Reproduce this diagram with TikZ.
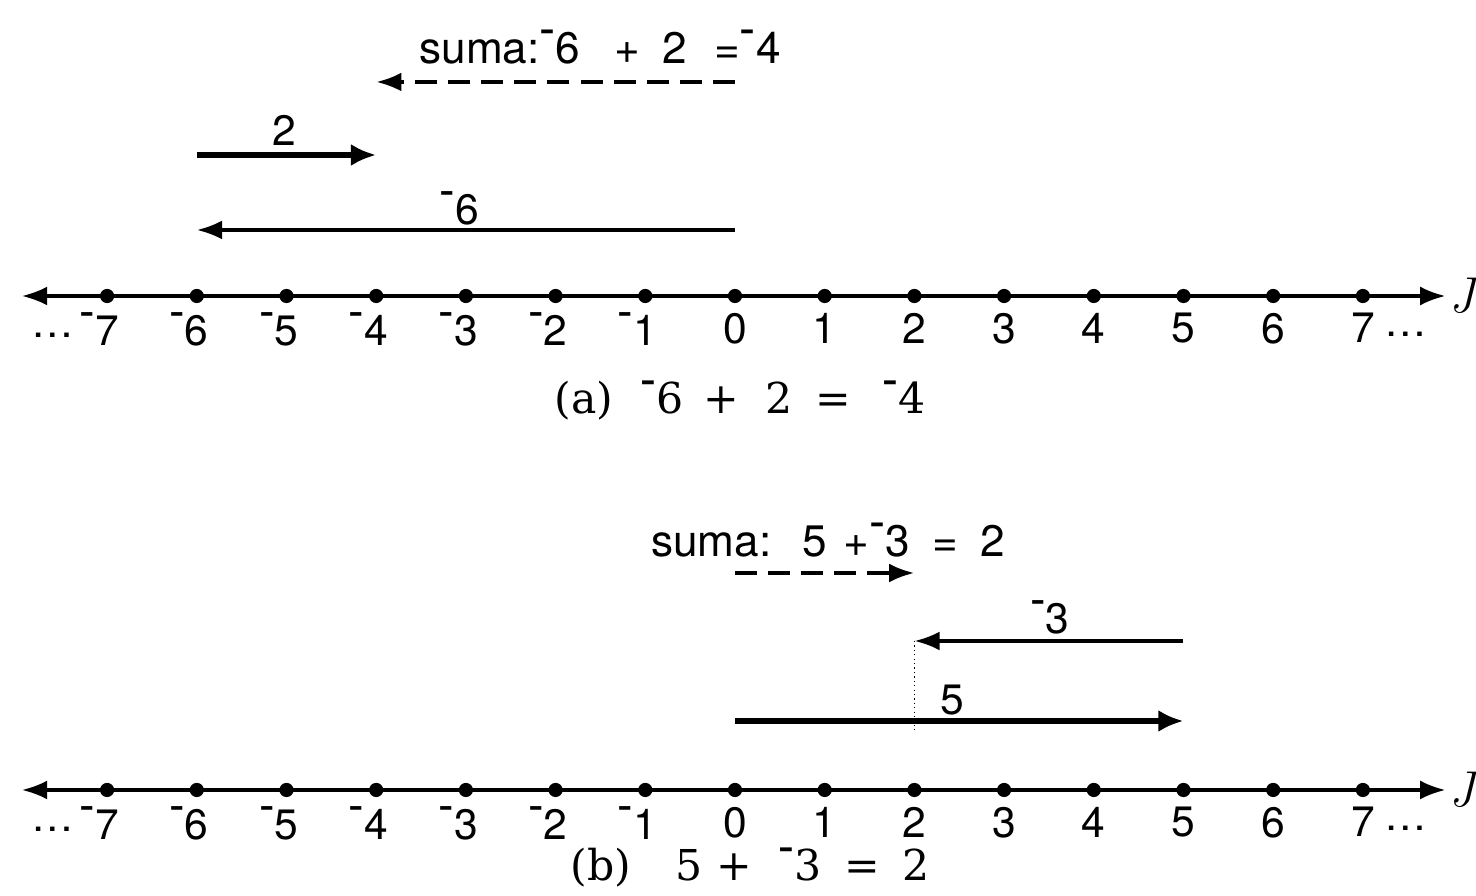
\documentclass[tikz,border=0pt]{standalone}
\usepackage{fontspec}
\setsansfont{TeX Gyre Heros}
\newfontfamily\capfont{DejaVu Serif}
\usepackage{graphicx}
\usetikzlibrary{arrows.meta, positioning, calc}

% raised minus sign used for negative integers
\newcommand{\negsign}{\raisebox{0.4em}{\scalebox{1.1}[1.2]{-}}}
\newcommand{\negnum}[1]{\negsign#1}

\begin{document}
\begin{tikzpicture}[x=1cm, y=1cm]
\tikzset{
  numline/.style={line width=1pt, {Latex[length=8pt, width=6pt]}-{Latex[length=8pt, width=6pt]}},
  tickdot/.style={circle, fill=black, minimum size=4.5pt, inner sep=0},
  ticklabel/.style={font=\sffamily\fontsize{13.5}{16}\selectfont, inner sep=1pt},
  sumlabel/.style={font=\sffamily\fontsize{14}{16}\selectfont, inner sep=1pt},
  vecthin/.style={line width=1.1pt, -{Latex[length=8pt, width=6pt]}},
  vecthick/.style={line width=1.8pt, -{Latex[length=8pt, width=7pt]}},
  sumvec/.style={line width=1.2pt, dash pattern=on 7pt off 3.5pt, -{Latex[length=8pt, width=6pt]}},
  captext/.style={font=\capfont\fontsize{13.5}{16}\selectfont},
}
\useasboundingbox (-8.194,-6.689) rectangle (8.261,3.300);

  % (a) number line
  \coordinate (aL) at (-7.95,0);
  \coordinate (aR) at (7.92,0);
  \draw[numline] (aL) -- (aR);
  \foreach \n in {-7,...,7}{
    \pgfmathtruncatemacro\m{abs(\n)}
    \node[tickdot] (a\n) at (\n,0) {};
    \node[ticklabel, below=0.06cm of a\n] (la\n)
      {\ifnum\n<0 \llap{\negsign}\fi\m};
  }
  \node[ticklabel, left=0.15cm of la-7, yshift=-2pt] (adotsL) {\ldots};
  \node[ticklabel, right=0.02cm of la7, yshift=-2pt] (adotsR) {\ldots};
  \node[font=\itshape\fontsize{16}{18}\selectfont, right=0pt of aR, inner sep=1pt] (aJ) {J};

  % (a) vectors
  \coordinate (a6tail) at ($(a0)+(0,0.736)$);
  \coordinate (a6head) at ($(a-6)+(0,0.736)$);
  \coordinate (a2tail) at ($(a-6)+(0,1.572)$);
  \coordinate (a2head) at ($(a-4)+(0,1.572)$);
  \coordinate (asumtail) at ($(a0)+(0,2.386)$);
  \coordinate (asumhead) at ($(a-4)+(0,2.386)$);
  \draw[vecthin] (a6tail) -- (a6head);
  \draw[vecthick] (a2tail) -- (a2head);
  \draw[sumvec] (asumtail) -- (asumhead);
  \node[ticklabel] (a6lab) at (-3.07,0.981) {\negnum{6}};
  \node[ticklabel] (a2lab) at (-5.02,1.85) {2};
  \node[sumlabel] (asum) at (-1.505,2.776)
    {suma:\negnum{6}\hspace{0.38cm}+\hspace{0.25cm}2\hspace{0.3cm}=\negnum{4}};
  \node[captext] (acap) at (0.056,-1.16)
    {(a)\hspace{0.3cm}\negnum{6}\hspace{0.22cm}+\hspace{0.3cm}2\hspace{0.25cm}=\hspace{0.35cm}\negnum{4}};

  % (b) number line
  \coordinate (bL) at (-7.95,-5.507);
  \coordinate (bR) at (7.92,-5.507);
  \draw[numline] (bL) -- (bR);
  \foreach \n in {-7,...,7}{
    \pgfmathtruncatemacro\m{abs(\n)}
    \node[tickdot] (b\n) at (\n,-5.507) {};
    \node[ticklabel, below=0.06cm of b\n] (lb\n)
      {\ifnum\n<0 \llap{\negsign}\fi\m};
  }
  \node[ticklabel, left=0.15cm of lb-7, yshift=-2pt] (bdotsL) {\ldots};
  \node[ticklabel, right=0.02cm of lb7, yshift=-2pt] (bdotsR) {\ldots};
  \node[font=\itshape\fontsize{16}{18}\selectfont, right=0pt of bR, inner sep=1pt] (bJ) {J};

  % (b) vectors
  \coordinate (b5tail) at ($(b0)+(0,0.769)$);
  \coordinate (b5head) at ($(b5)+(0,0.769)$);
  \coordinate (b3tail) at ($(b5)+(0,1.661)$);
  \coordinate (b3head) at ($(b2)+(0,1.661)$);
  \coordinate (bsumtail) at ($(b0)+(0,2.419)$);
  \coordinate (bsumhead) at ($(b2)+(0,2.419)$);
  \coordinate (bguide) at ($(b2)+(0,0.669)$);
  \draw[vecthick] (b5tail) -- (b5head);
  \draw[vecthin] (b3tail) -- (b3head);
  \draw[sumvec] (bsumtail) -- (bsumhead);
  \draw[densely dotted, thin] (b3head) -- (bguide);
  \node[ticklabel] (b3lab) at (3.51,-3.579) {\negnum{3}};
  \node[ticklabel] (b5lab) at (2.42,-4.504) {5};
  \node[sumlabel] (bsum) at (1.04,-2.72)
    {suma:\hspace{0.35cm}5\hspace{0.18cm}+\negnum{3}\hspace{0.25cm}=\hspace{0.25cm}2};
  \node[captext] (bcap) at (0.167,-6.37)
    {(b)\hspace{0.5cm}5\hspace{0.15cm}+\hspace{0.3cm}\negnum{3}\hspace{0.25cm}=\hspace{0.25cm}2};

\end{tikzpicture}
\end{document}
